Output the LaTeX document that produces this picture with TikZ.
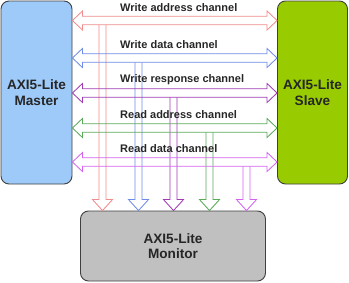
\documentclass[tikz,border=0pt]{standalone}
\usepackage{fontspec}
\setmainfont{Liberation Sans}
\usepackage{xcolor}
\usepackage{tikz}
\usetikzlibrary{calc}
\definecolor{wacol}{RGB}{240,140,140}
\definecolor{wdcol}{RGB}{110,140,232}
\definecolor{wrcol}{RGB}{160,60,180}
\definecolor{racol}{RGB}{90,170,90}
\definecolor{rdcol}{RGB}{212,100,240}
\tikzset{
  unit/.style={rectangle, rounded corners=8pt, draw=black!75, line width=0.9pt,
    align=center, font=\fontsize{13.6}{15.5}\selectfont\bfseries, text=black!85},
  chan/.style={line width=0.85pt, line join=miter},
  tap/.style={line width=0.85pt, line join=miter},
  lbl/.style={anchor=west, inner sep=0pt, font=\fontsize{11}{12}\selectfont\bfseries, text=black!85},
}

\begin{document}
\begin{tikzpicture}[x=1pt, y=-1pt]
  \useasboundingbox (0,0) rectangle (349,282);
  % the three units
  \node[unit, fill={rgb,255:red,158;green,202;blue,249}, minimum width=71pt, minimum height=183pt]
    (master) at (36.5,92.5) {AXI5-Lite\\Master};
  \node[unit, fill={rgb,255:red,153;green,204;blue,0}, minimum width=70pt, minimum height=183pt]
    (slave) at (312.5,92.5) {AXI5-Lite\\Slave};
  \node[unit, fill={rgb,255:red,192;green,192;blue,192}, minimum width=185pt, minimum height=70pt]
    (monitor) at (173,246) {AXI5-Lite\\Monitor};
  % channels: hollow double arrows master <-> slave, with a tap down to the monitor
  \foreach \y/\c/\txt/\vx [count=\i] in {
      20.5/wacol/Write address channel/102.5,
      58/wdcol/Write data channel/138.5,
      93/wrcol/Write response channel/173.5,
      128/racol/Read address channel/209.5,
      162/rdcol/Read data channel/246.5} {
    \draw[chan, \c] (master.east |- 0,\y) -- ++(10,-9.5) -- ++(0,5.25)
      -- ($(slave.west |- 0,\y)+(-10,-4.25)$) -- ++(0,-5.25) -- (slave.west |- 0,\y)
      -- ++(-10,9.5) -- ++(0,-5.25) -- ($(master.east |- 0,\y)+(10,4.25)$) -- ++(0,5.25) -- cycle;
    \coordinate (tip\i) at (\vx,0 |- monitor.north);
    \draw[tap, \c] ($(\vx,\y)+(-3.5,4.25)$) -- ($(tip\i)+(-3.5,-11)$) -- ++(-6.5,0)
      -- (tip\i) -- ++(10,-11) -- ++(-6.5,0) -- ($(\vx,\y)+(3.5,4.25)$);
    \node[lbl] (lbl\i) at (120,\y-13) {\txt};
  }
\end{tikzpicture}
\end{document}
